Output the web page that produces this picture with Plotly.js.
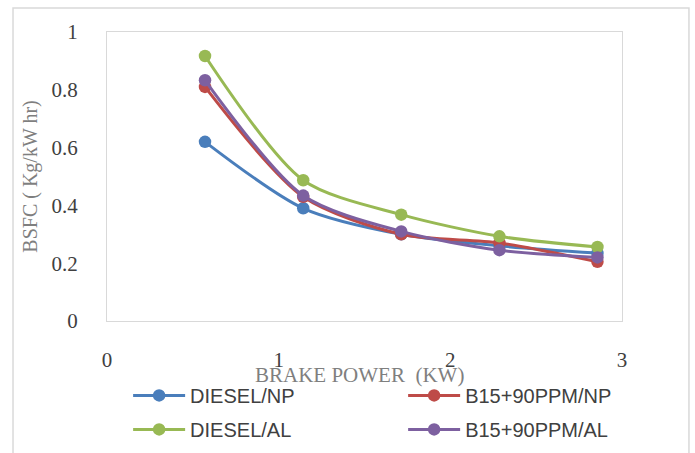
<!DOCTYPE html>
<html>
<head>
<meta charset="utf-8">
<script src="https://cdn.plot.ly/plotly-3.0.1.min.js"></script>
<style>
html,body{margin:0;padding:0;background:#fff;}
#chart{width:695px;height:453px;}
</style>
</head>
<body>
<div id="chart"></div>
<script>
var brakePower = [0.571, 1.143, 1.714, 2.286, 2.857];
var seriesNames = ["DIESEL/NP", "B15+90PPM/NP", "DIESEL/AL", "B15+90PPM/AL"];
var dieselNP = [0.62, 0.39, 0.30, 0.26, 0.235];
var b15NP = [0.81, 0.43, 0.30, 0.27, 0.205];
var dieselAL = [0.917, 0.487, 0.368, 0.293, 0.256];
var b15AL = [0.833, 0.434, 0.31, 0.245, 0.22];
var xTicks = [0, 1, 2, 3];
var yTicks = [0, 0.2, 0.4, 0.6, 0.8, 1];
var xTitle = "BRAKE POWER  (KW)";
var yTitle = "BSFC ( Kg/kW hr)";

var colors = ["#4A7EBB", "#BE4B48", "#98B954", "#7D60A0"];
var values = [dieselNP, b15NP, dieselAL, b15AL];
var legendFor = ["legend", "legend2", "legend", "legend2"];

var traces = values.map(function (v, i) {
  return {
    x: brakePower,
    y: v,
    name: seriesNames[i],
    legend: legendFor[i],
    legendgroup: "g" + i,
    type: "scatter",
    mode: "lines+markers",
    line: {color: colors[i], width: 3, shape: "spline", smoothing: 0.8},
    marker: {color: colors[i], size: 12.5}
  };
});

var legendFont = {family: "Liberation Sans Narrow, Arial Narrow, Liberation Sans, sans-serif", size: 20, color: "#404040"};

var layout = {
  width: 695,
  height: 453,
  paper_bgcolor: "#ffffff",
  plot_bgcolor: "#ffffff",
  margin: {l: 107, r: 73, t: 32, b: 132, autoexpand: false},
  showlegend: true,
  xaxis: {
    range: [0, 3],
    tickvals: xTicks,
    ticktext: xTicks.map(String),
    showgrid: false,
    zeroline: false,
    showline: true,
    mirror: true,
    linecolor: "#d9d9d9",
    linewidth: 1,
    ticks: "",
    ticklabelstandoff: 20,
    tickfont: {family: "Liberation Serif, serif", size: 21, color: "#404040"}
  },
  yaxis: {
    range: [0, 1],
    tickvals: yTicks,
    ticktext: ["0", "0.2", "0.4", "0.6", "0.8", "1"],
    showgrid: false,
    zeroline: false,
    showline: true,
    mirror: true,
    linecolor: "#d9d9d9",
    linewidth: 1,
    ticks: "",
    ticklabelstandoff: 24,
    tickfont: {family: "Liberation Serif, serif", size: 21, color: "#404040"},
    title: {
      text: yTitle,
      font: {family: "Liberation Serif, serif", size: 20, color: "#7f7f7f"},
      standoff: 8
    }
  },
  annotations: [{
    text: xTitle,
    xref: "paper", yref: "paper",
    x: 0.49, y: -0.187,
    xanchor: "center", yanchor: "middle",
    showarrow: false,
    font: {family: "Liberation Serif, serif", size: 21, color: "#7f7f7f"}
  }],
  legend: {
    orientation: "v",
    x: 0.041,
    xanchor: "left",
    y: -0.19,
    yanchor: "top",
    itemwidth: 52,
    tracegroupgap: 5,
    font: legendFont,
    bgcolor: "rgba(0,0,0,0)"
  },
  legend2: {
    orientation: "v",
    x: 0.575,
    xanchor: "left",
    y: -0.19,
    yanchor: "top",
    itemwidth: 52,
    tracegroupgap: 5,
    font: legendFont,
    bgcolor: "rgba(0,0,0,0)"
  },
  shapes: [{
    type: "rect",
    xref: "paper", yref: "paper",
    x0: -0.1825, x1: 1.130, y0: -0.5, y1: 1.083,
    line: {color: "#d9d9d9", width: 1.5},
    fillcolor: "rgba(0,0,0,0)",
    layer: "below"
  }]
};

Plotly.newPlot("chart", traces, layout, {displayModeBar: false, staticPlot: true});
</script>
</body>
</html>
